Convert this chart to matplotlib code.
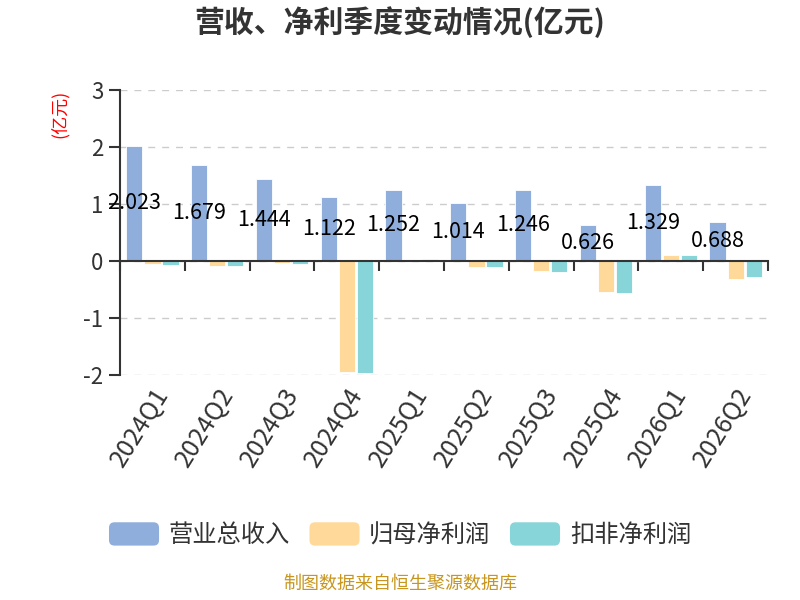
import numpy as np
import matplotlib
matplotlib.use("Agg")
import matplotlib.pyplot as plt
from matplotlib.patches import Patch, FancyBboxPatch
from matplotlib.legend_handler import HandlerPatch

plt.rcParams['font.family'] = ['Noto Sans CJK SC', 'DejaVu Sans']
plt.rcParams['axes.unicode_minus'] = False

quarters = ['2024Q1', '2024Q2', '2024Q3', '2024Q4', '2025Q1',
            '2025Q2', '2025Q3', '2025Q4', '2026Q1', '2026Q2']
revenue = [2.023, 1.679, 1.444, 1.122, 1.252, 1.014, 1.246, 0.626, 1.329, 0.688]
net_profit = [-0.05, -0.08, -0.04, -1.94, 0.02, -0.11, -0.18, -0.55, 0.10, -0.31]
deducted_profit = [-0.07, -0.09, -0.05, -1.96, 0.03, -0.11, -0.20, -0.57, 0.10, -0.28]
series_names = ['营业总收入', '归母净利润', '扣非净利润']
colors = ['#8faedb', '#ffd99a', '#87d5d9']


class RoundHandler(HandlerPatch):
    # rounded legend swatches
    def create_artists(self, legend, orig_handle, xdescent, ydescent,
                       width, height, fontsize, trans):
        p = FancyBboxPatch((-xdescent, -ydescent), width, height,
                           boxstyle='round,pad=0,rounding_size=4',
                           facecolor=orig_handle.get_facecolor(),
                           edgecolor='none', transform=trans)
        return [p]


fig = plt.figure(figsize=(8, 6), dpi=100)
ax = fig.add_axes([0.15, 0.375, 0.81, 0.475])

x = np.arange(len(quarters))
w = 0.25
step = 0.278
for k, vals in enumerate([revenue, net_profit, deducted_profit]):
    ax.bar(x + (k - 1) * step, vals, width=w, color=colors[k],
           edgecolor='white', linewidth=0.6, zorder=3)

# value labels in the middle of revenue bars
for xi, v in zip(x, revenue):
    ax.text(xi - step, v / 2, f'{v:.3f}', ha='center', va='center',
            fontsize=15.5, color='black', zorder=5)

ax.set_xlim(-0.5, len(quarters) - 0.5)
ax.set_ylim(-2, 3)
ax.set_yticks([-2, -1, 0, 1, 2, 3])
ax.yaxis.grid(True, linestyle=(0, (5, 5)), color='#cccccc', linewidth=1, zorder=0)
ax.tick_params(axis='y', direction='out', length=8, width=1.5, color='#333333',
               labelsize=16, labelcolor='#333333', pad=4)

for s in ['top', 'right']:
    ax.spines[s].set_visible(False)
ax.spines['left'].set_color('#333333')
ax.spines['left'].set_linewidth(1.5)
ax.spines['bottom'].set_position(('data', 0))
ax.spines['bottom'].set_color('#333333')
ax.spines['bottom'].set_linewidth(1.5)
ax.spines['bottom'].set_zorder(4)

ax.set_xticks(np.arange(-0.5, len(quarters) + 0.5, 1))
ax.set_xticklabels([])
ax.tick_params(axis='x', direction='out', length=7, width=1.5, color='#333333')

sec = ax.secondary_xaxis('bottom')
sec.set_xticks(x)
sec.set_xticklabels(quarters, rotation=58, ha='right', rotation_mode='anchor',
                    fontsize=18, color='#333333')
sec.tick_params(length=0, pad=6)
sec.spines['bottom'].set_visible(False)

fig.text(0.075, 0.81, '(亿元)', rotation=90, color='red', fontsize=13,
         ha='center', va='center')

fig.suptitle('营收、净利季度变动情况(亿元)', x=0.5, y=0.99, fontsize=21.5,
             fontweight='bold', color='#333333')

handles = [Patch(facecolor=c, edgecolor='none') for c in colors]
fig.legend(handles, series_names, loc='center', bbox_to_anchor=(0.5, 0.108),
           ncol=3, frameon=False, fontsize=17.5, handlelength=2.06,
           handleheight=1.1, columnspacing=0.8, handletextpad=0.4,
           labelcolor='#333333', handler_map={Patch: RoundHandler()})

fig.text(0.5, 0.012, '制图数据来自恒生聚源数据库', ha='center', va='bottom',
         fontsize=13, color='#c8961e')

fig.savefig('out.png', dpi=100)
